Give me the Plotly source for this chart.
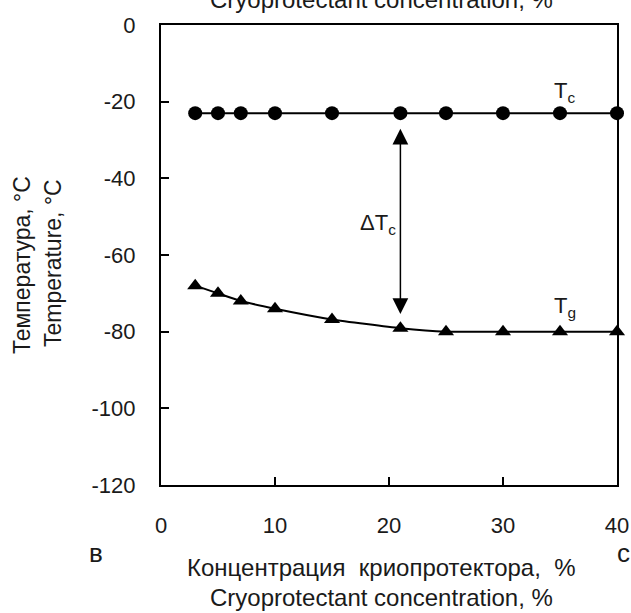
import plotly.graph_objects as go

# Cryoprotectant concentration, %
conc = [3, 5, 7, 10, 15, 21, 25, 30, 35, 40]
# Crystallisation temperature Tc, °C
t_c = [-23, -23, -23, -23, -23, -23, -23, -23, -23, -23]
# Glass transition temperature Tg, °C
t_g = [-68, -70, -72, -74, -76.8, -79.1, -80, -80, -80, -80]

y_ticks = [0, -20, -40, -60, -80, -100, -120]
x_ticks = [0, 10, 20, 30, 40]

FONT = "Arial, Liberation Sans, sans-serif"
TXT = "#1a1a1a"
L, R, T, B = 161, 14, 25, 128
W, H = 631, 613
ph = H - T - B
pw = W - L - R


def py(p):
    """pixel row -> paper y"""
    return (H - B - p) / ph


def px(p):
    """pixel column -> paper x"""
    return (p - L) / pw


fig = go.Figure()

fig.add_trace(go.Scatter(
    x=conc, y=t_c, mode="lines+markers",
    line=dict(color="black", width=2),
    marker=dict(symbol="circle", size=14, color="black"),
    cliponaxis=False, showlegend=False,
))
fig.add_trace(go.Scatter(
    x=conc, y=t_g, mode="lines+markers",
    line=dict(color="black", width=2, shape="spline", smoothing=0.5),
    marker=dict(symbol="triangle-up", size=14, color="black"),
    cliponaxis=False, showlegend=False,
))

# double-headed arrow marking ΔTc at 21 %
i = conc.index(21)
gap = 3.7
fig.add_annotation(
    x=conc[i], y=t_g[i] + gap, ax=conc[i], ay=t_c[i] - gap,
    xref="x", yref="y", axref="x", ayref="y",
    text="", showarrow=True, arrowside="end+start",
    arrowhead=2, startarrowhead=2, arrowsize=2.1, startarrowsize=2.1,
    arrowwidth=1.5, arrowcolor="black",
)

lab = dict(showarrow=False, xanchor="center", yanchor="middle",
           font=dict(family=FONT, size=22, color=TXT))
fig.add_annotation(x=35.4, y=-17.5, xref="x", yref="y", text="T<sub>c</sub>", **lab)
fig.add_annotation(x=35.4, y=-73.5, xref="x", yref="y", text="T<sub>g</sub>", **lab)
fig.add_annotation(x=19.0, y=-52, xref="x", yref="y", text="ΔT<sub>c</sub>", **lab)

txt = dict(showarrow=False, xref="paper", yref="paper",
           xanchor="center", yanchor="middle",
           font=dict(family=FONT, size=24, color=TXT))
sp = "\u00a0 "
fig.add_annotation(x=px(381), y=py(567),
                   text=f"Концентрация{sp}криопротектора,{sp}%", **txt)
fig.add_annotation(x=px(381), y=py(597), text="Cryoprotectant concentration, %", **txt)
fig.add_annotation(x=px(381), y=py(-1), text="Cryoprotectant concentration, %", **txt)

ytxt = dict(txt, font=dict(family=FONT, size=23, color=TXT))
fig.add_annotation(x=px(22), y=py(265), text="Температура, °C", textangle=-90, **ytxt)
fig.add_annotation(x=px(53), y=py(263), text="Temperature, °C", textangle=-90, **ytxt)

panel = dict(showarrow=False, xref="paper", yref="paper",
             xanchor="center", yanchor="middle",
             font=dict(family=FONT, size=26, color=TXT))
fig.add_annotation(x=px(96), y=py(553), text="в", **panel)
fig.add_annotation(x=px(623), y=py(553), text="c", **panel)

axis_common = dict(
    showline=True, linecolor="black", linewidth=2, mirror=True,
    ticks="inside", ticklen=8, tickwidth=1.5, tickcolor="black",
    showgrid=False, zeroline=False,
    tickfont=dict(family=FONT, size=22, color=TXT),
)

fig.update_xaxes(range=[0, 40], tickvals=x_ticks, ticktext=[str(v) for v in x_ticks],
                 ticklabelstandoff=20, ticklabeloverflow="allow", **axis_common)
fig.update_yaxes(range=[-120, 0], tickvals=y_ticks, ticktext=[str(v) for v in y_ticks],
                 ticklabelstandoff=19, ticklabeloverflow="allow", **axis_common)

fig.update_layout(
    width=W, height=H,
    margin=dict(l=L, r=R, t=T, b=B, autoexpand=False),
    paper_bgcolor="white", plot_bgcolor="white",
    font=dict(family=FONT),
)

fig.write_html("out.html")
